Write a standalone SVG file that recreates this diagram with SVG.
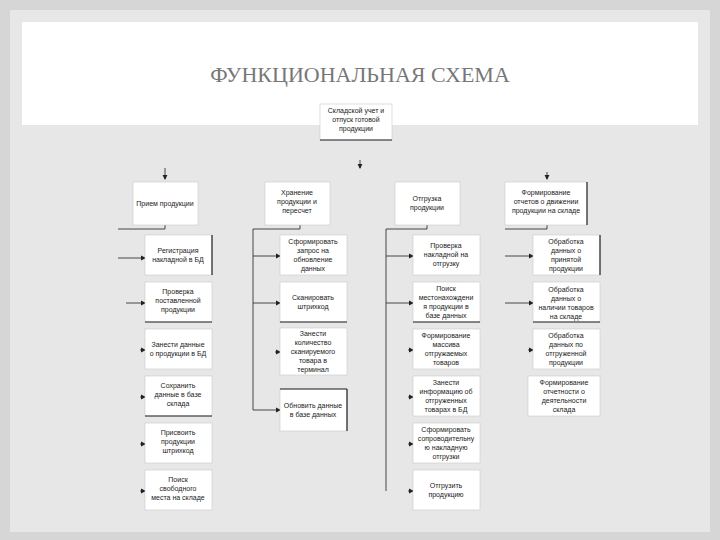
<svg xmlns="http://www.w3.org/2000/svg" width="720" height="540" viewBox="0 0 720 540">
<style>
.b{fill:#fff;stroke:#c8c8c8;stroke-width:0.6}
.s{fill:none;stroke:#222;stroke-width:1.2}
.t{font-family:"Liberation Sans",Arial,sans-serif;font-size:7px;fill:#222;text-anchor:middle}
.c{fill:none;stroke:#333;stroke-width:0.9}
</style>
<defs><marker id="a" markerWidth="6" markerHeight="6" refX="5" refY="3" orient="auto"><path d="M0,0L6,3L0,6z" fill="#222"/></marker></defs>
<rect width="720" height="540" fill="#d6d6d6"/>
<rect x="10" y="10" width="700" height="522" fill="#e7e7e7"/>
<rect x="22" y="22" width="676" height="103" fill="#fff"/>
<text x="360" y="82" font-family="Liberation Serif,serif" font-size="22" fill="#777" text-anchor="middle">ФУНКЦИОНАЛЬНАЯ СХЕМА</text>
<g id="connectors">
<path class="c" d="M360,160v8" marker-end="url(#a)"/>
<path class="c" d="M165,168v11" marker-end="url(#a)"/>
<path class="c" d="M547,172v7" marker-end="url(#a)"/>
<path class="c" d="M165,225v4h-47"/>
<path class="c" d="M118,258h27" marker-end="url(#a)"/>
<path class="c" d="M126,303h19" marker-end="url(#a)"/>
<path class="c" d="M140,350h5" marker-end="url(#a)"/>
<path class="c" d="M140,397h5" marker-end="url(#a)"/>
<path class="c" d="M140,444h5" marker-end="url(#a)"/>
<path class="c" d="M140,491h5" marker-end="url(#a)"/>
<path class="c" d="M300,225v4h-47v181h27" marker-end="url(#a)"/>
<path class="c" d="M253,256h27" marker-end="url(#a)"/>
<path class="c" d="M253,303h27" marker-end="url(#a)"/>
<path class="c" d="M275,352h5" marker-end="url(#a)"/>
<path class="c" d="M427,225v4h-41v262"/>
<path class="c" d="M386,256h27" marker-end="url(#a)"/>
<path class="c" d="M386,303h27" marker-end="url(#a)"/>
<path class="c" d="M408,350h5" marker-end="url(#a)"/>
<path class="c" d="M408,397h5" marker-end="url(#a)"/>
<path class="c" d="M408,444h5" marker-end="url(#a)"/>
<path class="c" d="M408,491h5" marker-end="url(#a)"/>
<path class="c" d="M547,225v4h-42"/>
<path class="c" d="M505,256h28" marker-end="url(#a)"/>
<path class="c" d="M505,303h28" marker-end="url(#a)"/>
<path class="c" d="M528,350h5" marker-end="url(#a)"/>
<path class="c" d="M528,397h5" marker-end="url(#a)"/>
</g>
<g id="root"><rect class="b" x="320" y="104" width="72" height="36"/><path class="s" d="M320,140h72"/><text class="t" x="356" y="113">Складской учет и</text><text class="t" x="356" y="122">отпуск готовой</text><text class="t" x="356" y="131">продукции</text></g>
<g id="n1"><rect class="b" x="133" y="182" width="65" height="43"/><text class="t" x="165" y="206">Прием продукции</text></g>
<g id="n2"><rect class="b" x="265" y="182" width="65" height="43"/><text class="t" x="297" y="195">Хранение</text><text class="t" x="297" y="204">продукции и</text><text class="t" x="297" y="213">пересчет</text></g>
<g id="n3"><rect class="b" x="395" y="182" width="65" height="43"/><text class="t" x="427" y="201">Отгрузка</text><text class="t" x="427" y="210">продукции</text></g>
<g id="n4"><rect class="b" x="505" y="182" width="82" height="43"/><path class="s" d="M587,182v43"/><text class="t" x="546" y="195">Формирование</text><text class="t" x="546" y="204">отчетов о движении</text><text class="t" x="546" y="213">продукции на складе</text></g>
<g id="c1a"><rect class="b" x="145" y="235" width="67" height="40"/><path class="s" d="M212,235v40"/><text class="t" x="178" y="253">Регистрация</text><text class="t" x="178" y="262">накладной в БД</text></g>
<g id="c1b"><rect class="b" x="145" y="282" width="67" height="40"/><path class="s" d="M145,322h67"/><text class="t" x="178" y="294">Проверка</text><text class="t" x="178" y="303">поставленной</text><text class="t" x="178" y="312">продукции</text></g>
<g id="c1c"><rect class="b" x="145" y="329" width="67" height="40"/><text class="t" x="178" y="347">Занести данные</text><text class="t" x="178" y="356">о продукции в БД</text></g>
<g id="c1d"><rect class="b" x="145" y="376" width="67" height="40"/><path class="s" d="M145,416h67"/><text class="t" x="178" y="388">Сохранить</text><text class="t" x="178" y="397">данные в базе</text><text class="t" x="178" y="406">склада</text></g>
<g id="c1e"><rect class="b" x="145" y="423" width="67" height="40"/><text class="t" x="178" y="435">Присвоить</text><text class="t" x="178" y="444">продукции</text><text class="t" x="178" y="453">штрихкод</text></g>
<g id="c1f"><rect class="b" x="145" y="470" width="67" height="40"/><text class="t" x="178" y="482">Поиск</text><text class="t" x="178" y="491">свободного</text><text class="t" x="178" y="500">места на складе</text></g>
<g id="c2a"><rect class="b" x="280" y="235" width="67" height="40"/><text class="t" x="313" y="244">Сформировать</text><text class="t" x="313" y="253">запрос на</text><text class="t" x="313" y="262">обновление</text><text class="t" x="313" y="271">данных</text></g>
<g id="c2b"><rect class="b" x="280" y="282" width="67" height="40"/><path class="s" d="M280,322h67"/><text class="t" x="313" y="300">Сканировать</text><text class="t" x="313" y="309">штрихкод</text></g>
<g id="c2c"><rect class="b" x="280" y="328" width="67" height="47"/><text class="t" x="313" y="336">Занести</text><text class="t" x="313" y="345">количество</text><text class="t" x="313" y="354">сканируемого</text><text class="t" x="313" y="363">товара в</text><text class="t" x="313" y="372">терминал</text></g>
<g id="c2d"><rect class="b" x="280" y="389" width="67" height="42"/><path class="s" d="M280,389h67M347,389v42"/><text class="t" x="313" y="408">Обновить данные</text><text class="t" x="313" y="417">в базе данных</text></g>
<g id="c3a"><rect class="b" x="413" y="235" width="67" height="40"/><text class="t" x="446" y="248">Проверка</text><text class="t" x="446" y="257">накладной на</text><text class="t" x="446" y="266">отгрузку</text></g>
<g id="c3b"><rect class="b" x="413" y="282" width="67" height="40"/><path class="s" d="M413,322h67"/><text class="t" x="446" y="291">Поиск</text><text class="t" x="446" y="300">местонахождени</text><text class="t" x="446" y="309">я продукции в</text><text class="t" x="446" y="318">базе данных</text></g>
<g id="c3c"><rect class="b" x="413" y="329" width="67" height="40"/><text class="t" x="446" y="338">Формирование</text><text class="t" x="446" y="347">массива</text><text class="t" x="446" y="356">отгружаемых</text><text class="t" x="446" y="365">товаров</text></g>
<g id="c3d"><rect class="b" x="413" y="376" width="67" height="40"/><text class="t" x="446" y="385">Занести</text><text class="t" x="446" y="394">информацию об</text><text class="t" x="446" y="403">отгруженных</text><text class="t" x="446" y="412">товарах в БД</text></g>
<g id="c3e"><rect class="b" x="413" y="423" width="67" height="40"/><text class="t" x="446" y="432">Сформировать</text><text class="t" x="446" y="441">сопроводительну</text><text class="t" x="446" y="450">ю накладную</text><text class="t" x="446" y="459">отгрузки</text></g>
<g id="c3f"><rect class="b" x="413" y="470" width="67" height="40"/><text class="t" x="446" y="488">Отгрузить</text><text class="t" x="446" y="497">продукцию</text></g>
<g id="c4a"><rect class="b" x="533" y="235" width="67" height="40"/><path class="s" d="M600,235v40"/><text class="t" x="566" y="244">Обработка</text><text class="t" x="566" y="253">данных о</text><text class="t" x="566" y="262">принятой</text><text class="t" x="566" y="271">продукции</text></g>
<g id="c4b"><rect class="b" x="533" y="282" width="67" height="40"/><path class="s" d="M533,322h67"/><text class="t" x="566" y="292">Обработка</text><text class="t" x="566" y="301">данных о</text><text class="t" x="566" y="310">наличии товаров</text><text class="t" x="566" y="319">на складе</text></g>
<g id="c4c"><rect class="b" x="533" y="329" width="67" height="40"/><text class="t" x="566" y="338">Обработка</text><text class="t" x="566" y="347">данных по</text><text class="t" x="566" y="356">отгруженной</text><text class="t" x="566" y="365">продукции</text></g>
<g id="c4d"><rect class="b" x="528" y="376" width="72" height="40"/><text class="t" x="564" y="385">Формирование</text><text class="t" x="564" y="394">отчетности о</text><text class="t" x="564" y="403">деятельности</text><text class="t" x="564" y="412">склада</text></g>
</svg>
